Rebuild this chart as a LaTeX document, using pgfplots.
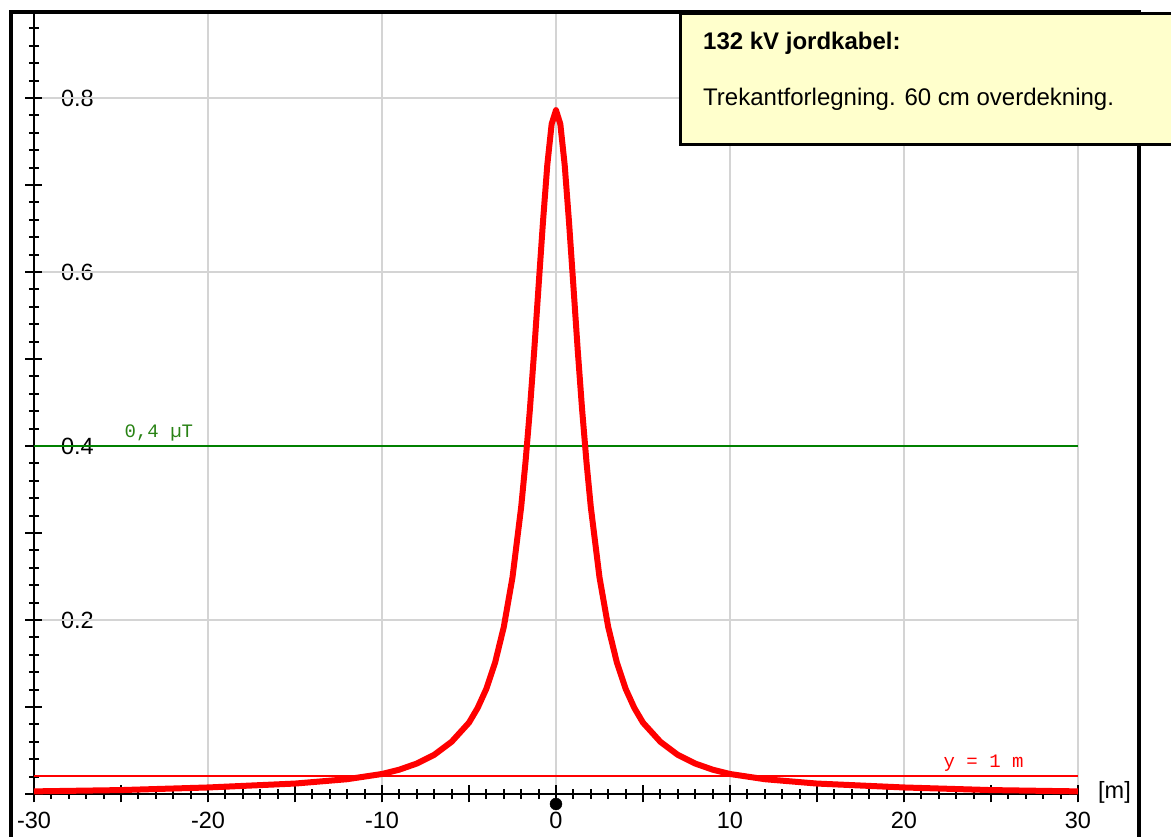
\documentclass[border=0pt]{standalone}
\usepackage{pgfplots}
\pgfplotsset{compat=1.18}
\usepackage{pgfplotstable}
\usepackage{fontspec}
\setmainfont{Liberation Sans}
\newfontfamily\monofont{Liberation Mono}
\definecolor{gridgray}{RGB}{212,212,212}
\definecolor{boxyellow}{RGB}{255,255,204}
\definecolor{darkgreen}{RGB}{0,128,0}
\definecolor{labelgreen}{RGB}{40,130,20}
\pgfplotstableread{
x y
-30 0.003
-25 0.0045
-20 0.0075
-15 0.012
-12 0.017
-10 0.023
-9 0.028
-8 0.035
-7 0.045
-6 0.060
-5 0.082
-4.5 0.099
-4 0.121
-3.5 0.151
-3 0.192
-2.5 0.249
-2 0.330
-1.75 0.382
-1.5 0.442
-1.25 0.510
-1 0.584
-0.75 0.657
-0.5 0.723
-0.25 0.770
0 0.786
0.25 0.770
0.5 0.723
0.75 0.657
1 0.584
1.25 0.510
1.5 0.442
1.75 0.382
2 0.330
2.5 0.249
3 0.192
3.5 0.151
4 0.121
4.5 0.099
5 0.082
6 0.060
7 0.045
8 0.035
9 0.028
10 0.023
12 0.017
15 0.012
20 0.0075
25 0.0045
30 0.003
}\fieldtable
\begin{document}
\begin{tikzpicture}[x=1pt,y=1pt]
\useasboundingbox (0,0) rectangle (1171,837);
\begin{axis}[
  at={(34pt,43pt)}, anchor=south west,
  scale only axis, width=1044pt, height=783pt,
  xmin=-30, xmax=30, ymin=0, ymax=0.9,
  axis x line=bottom, axis y line=left,
  axis line style={-, line width=2pt, black},
  tick align=center,
  xtick={-30,-25,...,30},
  xticklabels={-30,,-20,,-10,,0,,10,,20,,30},
  minor xtick={-30,-29,...,30},
  ytick={0,0.1,0.2,0.3,0.4,0.5,0.6,0.7,0.8},
  yticklabels={,,0.2,,0.4,,0.6,,0.8},
  minor ytick={0.02,0.04,0.06,0.08,0.12,0.14,0.16,0.18,0.22,0.24,0.26,0.28,0.32,0.34,0.36,0.38,0.42,0.44,0.46,0.48,0.52,0.54,0.56,0.58,0.62,0.64,0.66,0.68,0.72,0.74,0.76,0.78,0.82,0.84,0.86,0.88},
  major tick length=17pt, minor tick length=10pt,
  every tick/.style={black, line width=2pt},
  extra x ticks={-20,-10,0,10,20,30}, extra x tick labels={},
  extra x tick style={grid=major},
  extra y ticks={0.2,0.4,0.6,0.8}, extra y tick labels={},
  extra y tick style={grid=major},
  major grid style={gridgray, line width=2pt},
  tick label style={font=\fontsize{23.5}{23.5}\selectfont, text=black},
  yticklabel style={anchor=west, xshift=32pt},
  xticklabel style={anchor=north, yshift=-6pt},
  clip=false,
]
\addplot[red, line width=1.8pt, forget plot] coordinates {(-30,0.0207) (30,0.0207)};
\addplot[darkgreen, line width=1.8pt, forget plot] coordinates {(-30,0.4) (30,0.4)};
\addplot[red, line width=6pt, line join=round] table[x=x,y=y] {\fieldtable};
\addplot[only marks, mark=*, mark size=6pt, black] coordinates {(0,-0.0115)};
\node[anchor=base west, inner sep=0, text=labelgreen, font=\monofont\fontsize{19}{19}\selectfont, yshift=8pt] at (axis cs:-24.8,0.4) {0,4 µT};
\node[anchor=base west, inner sep=0, text=red, font=\monofont\fontsize{19}{19}\selectfont, yshift=8pt] at (axis cs:22.27,0.0207) {y = 1 m};
\end{axis}
\node[anchor=west, inner sep=0, font=\fontsize{23.5}{23.5}\selectfont] at (1098,45) {[m]};
\draw[line width=4pt] (10.5,-10) -- (10.5,824.5) -- (1139,824.5) -- (1139,-10);
\draw[line width=3pt, fill=boxyellow] (680.5,692.5) rectangle (1200,823.5);
\node[anchor=base west, inner sep=0, font=\bfseries\fontsize{24}{24}\selectfont] at (703,787) {132 kV jordkabel:};
\node[anchor=base west, inner sep=0, font=\fontsize{24}{24}\selectfont] at (703,731) {Trekantforlegning. 60 cm overdekning.};
\end{tikzpicture}
\end{document}
